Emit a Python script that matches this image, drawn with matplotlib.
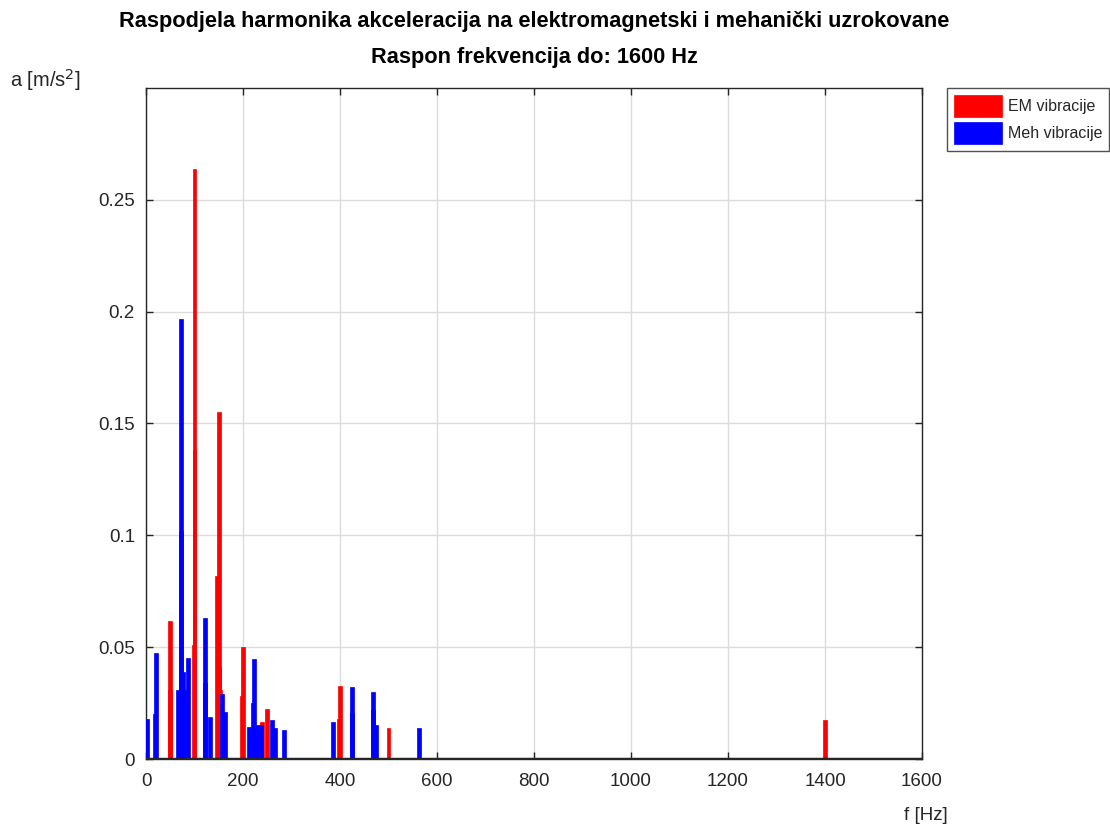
import matplotlib
matplotlib.use("Agg")
import matplotlib.pyplot as plt

plt.rcParams['font.family'] = ['Liberation Sans', 'DejaVu Sans']

# EM (electromagnetic) harmonics
em_freq = [49, 50, 98, 100, 100, 146, 150, 150, 152, 154, 198, 200, 239, 249, 398, 400, 500, 1400]
em_amp = [0.031, 0.0615, 0.051, 0.138, 0.264, 0.082, 0.155, 0.041, 0.031, 0.023, 0.028, 0.050, 0.0166, 0.0225, 0.018, 0.0328, 0.014, 0.0175]

# Mechanical harmonics
meh_freq = [2, 18, 21, 66, 72, 72, 75, 77, 79, 87, 122, 122, 132, 157, 163, 212, 221, 223, 229, 237, 260, 266, 285, 386, 425, 425, 468, 468, 474, 563]
meh_amp = [0.018, 0.02, 0.0475, 0.031, 0.102, 0.1966, 0.022, 0.039, 0.031, 0.045, 0.063, 0.034, 0.019, 0.029, 0.021, 0.0145, 0.025, 0.0445, 0.015, 0.015, 0.0175, 0.014, 0.013, 0.0166, 0.0323, 0.0206, 0.030, 0.022, 0.015, 0.014]

xticks = [0, 200, 400, 600, 800, 1000, 1200, 1400, 1600]
yticks = [0, 0.05, 0.1, 0.15, 0.2, 0.25]
ytick_labels = ['0', '0.05', '0.1', '0.15', '0.2', '0.25']

fig = plt.figure(figsize=(11.1, 8.25), dpi=100)
ax = fig.add_axes([146/1110, 1-759/825, (922-146)/1110, (759-88)/825])

w = 8
ax.bar(em_freq, em_amp, width=w, color='#ff0000', edgecolor='#ff0000', linewidth=0.5, label='EM vibracije', zorder=3)
ax.bar(meh_freq, meh_amp, width=w, color='#0000ff', edgecolor='#0000ff', linewidth=0.5, label='Meh vibracije', zorder=3)

ax.set_xlim(0, 1600)
ax.set_ylim(0, 0.3)
ax.set_xticks(xticks)
ax.set_xticklabels([str(t) for t in xticks])
ax.set_yticks(yticks)
ax.set_yticklabels(ytick_labels)
ax.grid(True, color='#dcdcdc', linewidth=1.0, zorder=0)
ax.set_axisbelow(True)
ax.tick_params(direction='in', length=5, width=1, labelsize=13.5, colors='#262626',
               top=True, right=True)
ax.tick_params(axis='x', pad=10)
ax.tick_params(axis='y', pad=8)
for s in ax.spines.values():
    s.set_color('#262626')
    s.set_linewidth(1.0)
ax.axhline(0, color='#262626', linewidth=2.5, zorder=4)

fig.text(534/1110, 1-22/825, 'Raspodjela harmonika akceleracija na elektromagnetski i mehanički uzrokovane',
         fontsize=15.7, fontweight='bold', ha='center', va='center', color='black')
fig.text(534/1110, 1-58/825, 'Raspon frekvencija do: 1600 Hz',
         fontsize=15.7, fontweight='bold', ha='center', va='center', color='black')

fig.text(10/1110, 1-80/825, 'a [m/s$^2$]', fontsize=14.5, color='#262626', va='center', ha='left')
fig.text(948/1110, 1-815/825, 'f [Hz]', fontsize=13.5, color='#262626', va='center', ha='right')

leg = ax.legend(loc='upper left', bbox_to_anchor=(947/1110, 1-88/825), bbox_transform=fig.transFigure,
                frameon=True, fancybox=False, fontsize=11.5, handlelength=3.0, handleheight=1.7,
                borderaxespad=0, borderpad=0.45, labelspacing=0.35, handletextpad=0.35)
leg.get_frame().set_edgecolor('#262626')
leg.get_frame().set_linewidth(1.0)
for t in leg.get_texts():
    t.set_color('#262626')

fig.savefig('out.png', dpi=100)
